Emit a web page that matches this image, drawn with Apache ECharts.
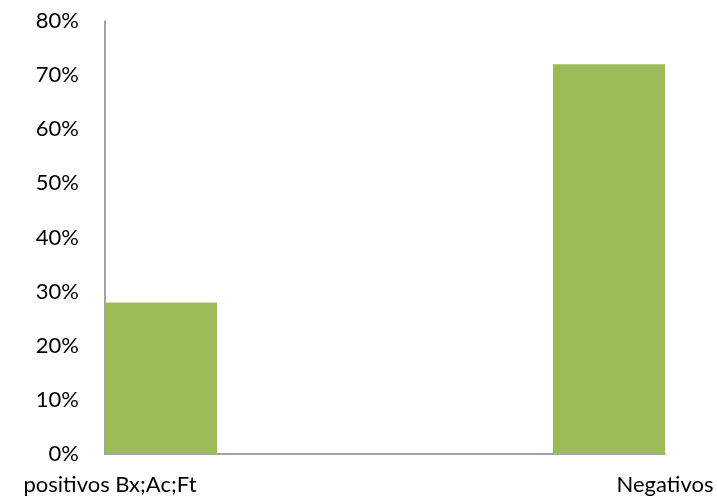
<!DOCTYPE html>
<html>
<head>
<meta charset="utf-8">
<script src="https://cdn.jsdelivr.net/npm/echarts@6/dist/echarts.min.js"></script>
<style>
  html, body { margin: 0; padding: 0; background: #fff; }
  #chart { width: 717px; height: 502px; }
</style>
</head>
<body>
<div id="chart"></div>
<script>
// categories shown under the axis and bar values (percent)
const categories = ['positivos Bx;Ac;Ft', 'Negativos'];
const values = [28, 72];
// bar slots: the bars sit against the two ends of the plot area
const slots = ['positivos Bx;Ac;Ft', '', '', '', 'Negativos'];
const slotValues = [values[0], null, null, null, values[1]];
const yTicks = [0, 10, 20, 30, 40, 50, 60, 70, 80];

(function () {
  const chart = echarts.init(document.getElementById('chart'));
  const font = 'Lato, "Open Sans", sans-serif';
  const axisGray = '#868686';

  const opt = {
    animation: false,
    grid: { left: 105, right: 52, top: 21, bottom: 48 },
    xAxis: [
      {
        type: 'category',
        data: categories,
        boundaryGap: false,
        axisLine: { show: true, lineStyle: { color: axisGray, width: 1.5 } },
        axisTick: { show: false },
        axisLabel: {
          margin: 20,
          color: '#000',
          fontFamily: font,
          fontSize: 22,
          formatter: function (v, i) { return i === 0 ? '{a|' + v + '}' : v; },
          rich: { a: { padding: [0, 0, 0, 10], fontFamily: font, fontSize: 22, color: '#000' } }
        },
        splitLine: { show: false }
      },
      {
        type: 'category',
        data: slots,
        position: 'bottom',
        show: false
      }
    ],
    yAxis: {
      type: 'value',
      min: yTicks[0],
      max: yTicks[yTicks.length - 1],
      interval: 10,
      axisLine: { show: true, lineStyle: { color: axisGray, width: 1.5 } },
      axisTick: { show: false },
      splitLine: { show: false },
      axisLabel: {
        margin: 26,
        color: '#000',
        fontFamily: font,
        fontSize: 22,
        formatter: '{value}%'
      }
    },
    series: [{
      type: 'bar',
      xAxisIndex: 1,
      data: slotValues,
      barWidth: '100%',
      itemStyle: { color: '#9BBB59' }
    }]
  };
  chart.setOption(opt);
})();
</script>
</body>
</html>
